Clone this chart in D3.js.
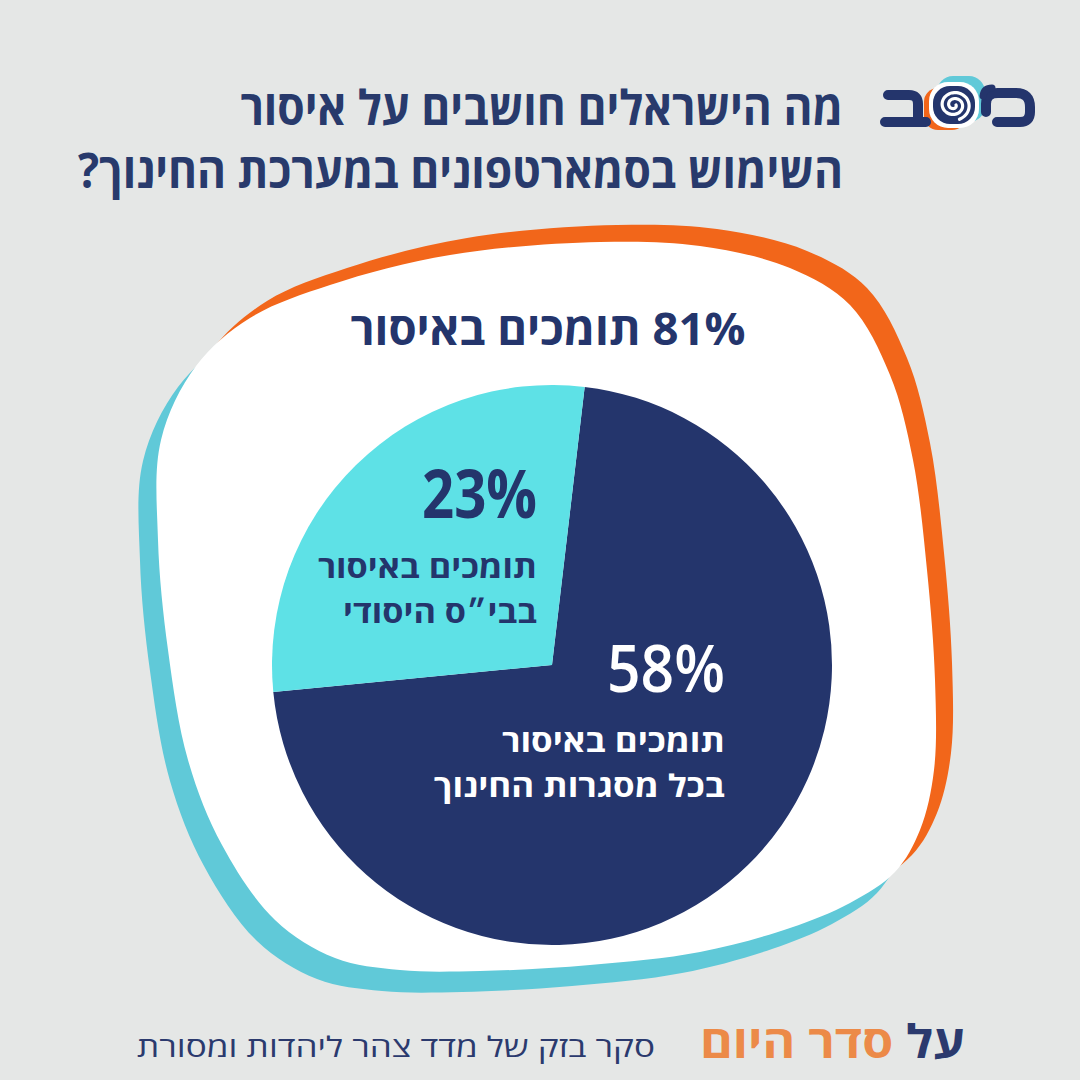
<!DOCTYPE html>
<html>
<head>
<meta charset="utf-8">
<script src="https://cdn.jsdelivr.net/npm/d3@7"></script>
<style>
  html, body { margin: 0; padding: 0; background: #e5e7e6; }
  svg { display: block; }
  text { font-family: "Open Sans", "Liberation Sans", "DejaVu Sans", sans-serif; }
</style>
</head>
<body>
<svg id="chart" width="1080" height="1080"></svg>
<script>
// data
const titleLines = ["מה הישראלים חושבים על איסור", "השימוש בסמארטפונים במערכת החינוך?"];
const sliceValues = [58, 23];
const sliceLead = "תומכים באיסור";
const sliceNames = ["בכל מסגרות החינוך", "בבי״ס היסודי"];
const totalText = "תומכים באיסור";
const sourceText = "סקר בזק של מדד צהר ליהדות ומסורת";
const brandWords = ["על", "סדר היום"];

const navy = "#24356c";
const colors = [navy, "#5ee1e6"];
const labelColors = ["#ffffff", navy];

const svg = d3.select("#chart");
const cx = 552, cy = 665, r = 280;

// squeeze a text to a given width (keeps its height)
function fitWidth(sel, width) {
  const w = sel.node().getComputedTextLength();
  sel.attr("textLength", width).attr("lengthAdjust", "spacingAndGlyphs");
  return width / w;
}
function scaleWidth(sel, k) {
  const w = sel.node().getComputedTextLength();
  sel.attr("textLength", w * k).attr("lengthAdjust", "spacingAndGlyphs");
}

// background blob shapes
const blob = [[600,242],[700,246],[790,268],[850,305],[890,375],[913,460],[927,570],[935,680],
  [934,770],[920,830],[895,872],[850,903],[790,928],[700,952],[590,965],[480,971],[400,970],
  [335,958],[275,920],[222,845],[188,760],[168,650],[158,540],[161,440],[196,366],[250,318],
  [330,285],[450,255]];
const blobLine = d3.line().curve(d3.curveCatmullRomClosed.alpha(0.5));

svg.append("path").attr("d", blobLine(blob)).attr("fill", "#f2661a")
  .attr("transform", "translate(17,-17)");
svg.append("path").attr("d", blobLine(blob)).attr("fill", "#60c9d8")
  .attr("transform", "translate(-18,21)");
svg.append("path").attr("d", blobLine(blob)).attr("fill", "#ffffff");

// pie
const pie = d3.pie().sort(null).startAngle(6.7 * Math.PI / 180).endAngle(366.7 * Math.PI / 180);
const arc = d3.arc().innerRadius(0).outerRadius(r);
const g = svg.append("g").attr("transform", `translate(${cx},${cy})`);
g.selectAll("path").data(pie(sliceValues)).join("path")
  .attr("d", arc)
  .attr("fill", (d, i) => colors[i]);

// slice labels
const labelPos = [
  { x: 725, y: 692, w: 118, lw: 223 },
  { x: 537, y: 518, w: 115, lw: 219 }
];
sliceValues.forEach((v, i) => {
  const p = labelPos[i];
  const big = svg.append("text")
    .attr("x", p.x).attr("y", p.y)
    .attr("direction", "rtl").attr("text-anchor", "start")
    .attr("font-size", 66).attr("font-weight", i === 0 ? 600 : 700)
    .attr("fill", labelColors[i])
    .text(v + "%");
  fitWidth(big, p.w);
  const l1 = svg.append("text")
    .attr("x", p.x).attr("y", p.y + 60)
    .attr("direction", "rtl").attr("text-anchor", "start")
    .attr("font-size", 31).attr("font-weight", 700)
    .attr("fill", labelColors[i])
    .text(sliceLead);
  const k = fitWidth(l1, p.lw);
  const l2 = svg.append("text")
    .attr("x", p.x).attr("y", p.y + 105)
    .attr("direction", "rtl").attr("text-anchor", "start")
    .attr("font-size", 31).attr("font-weight", 700)
    .attr("fill", labelColors[i])
    .text(sliceNames[i]);
  scaleWidth(l2, k);
});

// total headline
const total = svg.append("text")
  .attr("x", 548).attr("y", 345)
  .attr("direction", "rtl").attr("text-anchor", "middle")
  .attr("font-size", 45).attr("font-weight", 700)
  .attr("fill", navy)
  .text(d3.sum(sliceValues) + "% " + totalText);
fitWidth(total, 395);

// title
const t2 = svg.append("text")
  .attr("x", 843).attr("y", 188)
  .attr("direction", "rtl").attr("text-anchor", "start")
  .attr("font-size", 48).attr("font-weight", 700)
  .attr("fill", "#283a6c")
  .text(titleLines[1]);
const tk = fitWidth(t2, 765);
const t1 = svg.append("text")
  .attr("x", 843).attr("y", 125)
  .attr("direction", "rtl").attr("text-anchor", "start")
  .attr("font-size", 48).attr("font-weight", 700)
  .attr("fill", "#283a6c")
  .text(titleLines[0]);
scaleWidth(t1, tk);

// footer
const brand = svg.append("text")
  .attr("x", 965).attr("y", 1058)
  .attr("direction", "rtl").attr("text-anchor", "start")
  .attr("font-size", 46).attr("font-weight", 700);
brand.append("tspan").attr("fill", "#2b3a6e").text(brandWords[0] + " ");
brand.append("tspan").attr("fill", "#ec8a48").text(brandWords[1]);
fitWidth(brand, 265);

const source = svg.append("text")
  .attr("x", 655).attr("y", 1057)
  .attr("direction", "rtl").attr("text-anchor", "start")
  .attr("font-size", 28).attr("font-weight", 400)
  .attr("fill", "#2b3a6e")
  .text(sourceText);
fitWidth(source, 518);

// logo
const logo = svg.append("g");
logo.append("rect").attr("x", 937).attr("y", 76).attr("width", 48).attr("height", 46)
  .attr("rx", 16).attr("fill", "#60c9d8");
logo.append("rect").attr("x", 924).attr("y", 88).attr("width", 42).attr("height", 42)
  .attr("rx", 14).attr("fill", "#f2661a");
logo.append("rect").attr("x", 929).attr("y", 82).attr("width", 50).attr("height", 46)
  .attr("rx", 19).attr("fill", "#ffffff");
logo.append("rect").attr("x", 933).attr("y", 86).attr("width", 42).attr("height", 38)
  .attr("rx", 17).attr("fill", navy);
const spiral = d3.range(0, 4.4 * Math.PI, 0.2).map(a => [
  954 + Math.cos(a) * (2 + a * 1.05),
  105 + Math.sin(a) * (2 + a * 0.95)
]);
logo.append("path").attr("d", d3.line().curve(d3.curveBasis)(spiral))
  .attr("fill", "none").attr("stroke", "#ffffff").attr("stroke-width", 3.2)
  .attr("stroke-linecap", "round");
// ב
logo.append("path")
  .attr("d", "M888,95 L909,95 Q918,95 918,104 L918,122 M885,122 L926,122")
  .attr("fill", "none").attr("stroke", navy).attr("stroke-width", 10)
  .attr("stroke-linecap", "round").attr("stroke-linejoin", "round");
// מ
logo.append("path")
  .attr("d", "M986,112 L986,104 Q986,93 998,93 L1016,93 Q1030,93 1030,107 L1030,112 Q1030,122 1020,122 L997,122")
  .attr("fill", "none").attr("stroke", navy).attr("stroke-width", 10)
  .attr("stroke-linecap", "round").attr("stroke-linejoin", "round");
logo.append("path")
  .attr("d", "M983,96 Q984,88 992,88")
  .attr("fill", "none").attr("stroke", navy).attr("stroke-width", 7)
  .attr("stroke-linecap", "round");
</script>
</body>
</html>
